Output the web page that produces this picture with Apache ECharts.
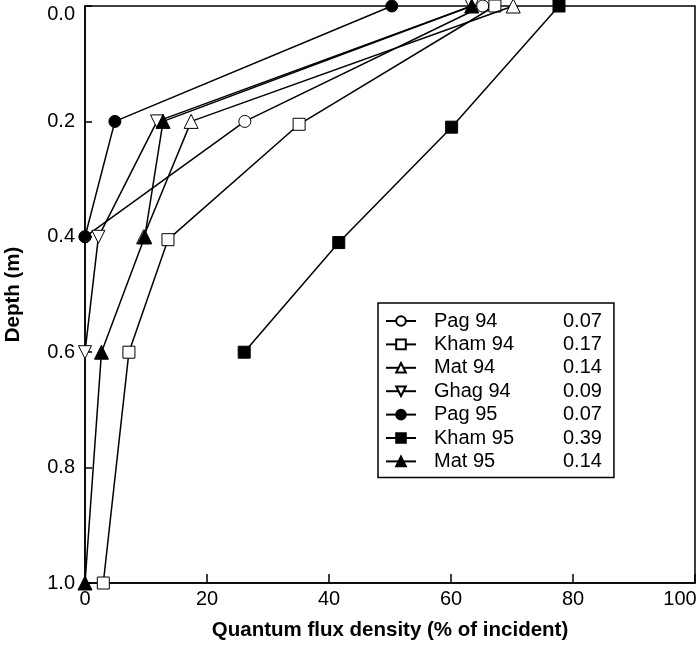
<!DOCTYPE html>
<html>
<head>
<meta charset="utf-8">
<script src="https://cdn.jsdelivr.net/npm/echarts@6/dist/echarts.min.js"></script>
<style>
  html, body { margin: 0; padding: 0; background: #fff; }
  #chart { width: 698px; height: 648px; }
</style>
</head>
<body>
<div id="chart"></div>
<script>
// 图例名称和消光系数
const seriesNames = ['Pag 94', 'Kham 94', 'Mat 94', 'Ghag 94', 'Pag 95', 'Kham 95', 'Mat 95']
const coefs = ['0.07', '0.17', '0.14', '0.09', '0.07', '0.39', '0.14']

// 每条线的光量子通量 (% of incident) 和深度 (m)
const pag94Flux = [65.2, 26.2, 0]
const pag94Depth = [0, 0.2, 0.4]
const kham94Flux = [67.2, 35.1, 13.6, 7.2, 3.0]
const kham94Depth = [0, 0.205, 0.405, 0.6, 1.0]
const mat94Flux = [70.2, 17.4, 9.6]
const mat94Depth = [0, 0.2, 0.4]
const ghag94Flux = [63.4, 11.8, 2.2, 0]
const ghag94Depth = [0, 0.2, 0.4, 0.6]
const pag95Flux = [50.3, 4.9, 0]
const pag95Depth = [0, 0.2, 0.4]
const kham95Flux = [77.7, 60.1, 41.6, 26.1]
const kham95Depth = [0, 0.21, 0.41, 0.6]
const mat95Flux = [63.4, 12.8, 9.8, 2.7, 0]
const mat95Depth = [0, 0.2, 0.4, 0.6, 1.0]

// 刻度
const xTicks = [0, 20, 40, 60, 80, 100]
const yTicks = [0, 0.2, 0.4, 0.6, 0.8, 1.0]

const FONT = "'Liberation Sans', Arial, sans-serif"
const downTri = 'path://M0,0 L10,0 L5,9 Z'

function pairs(xs, ds) {
  return xs.map((v, i) => [v, ds[i]])
}

// 每条线的标记样式
const styles = [
  { symbol: 'circle', size: 12, fill: '#fff' },
  { symbol: 'rect', size: 12, fill: '#fff' },
  { symbol: 'triangle', size: 14, fill: '#fff' },
  { symbol: downTri, size: 13, fill: '#fff' },
  { symbol: 'circle', size: 12, fill: '#000' },
  { symbol: 'rect', size: 12, fill: '#000' },
  { symbol: 'triangle', size: 14, fill: '#000' }
]
const allData = [
  pairs(pag94Flux, pag94Depth),
  pairs(kham94Flux, kham94Depth),
  pairs(mat94Flux, mat94Depth),
  pairs(ghag94Flux, ghag94Depth),
  pairs(pag95Flux, pag95Depth),
  pairs(kham95Flux, kham95Depth),
  pairs(mat95Flux, mat95Depth)
]

const labelRich = {
  // 顶部 0.0 往下挪一点，100 往左挪一点，免得被裁掉
  low: { fontFamily: FONT, fontSize: 20, color: '#000', padding: [16, 0, 0, 0] },
  end: { fontFamily: FONT, fontSize: 20, color: '#000', padding: [0, 30, 0, 0] }
}

const myChart = echarts.init(document.querySelector('#chart'))
const option = {
  animation: false,
  backgroundColor: '#fff',
  grid: {
    left: 85, right: 3, top: 6, bottom: 65,
    outerBoundsMode: 'none',
    containLabel: false,
    show: true,
    borderColor: '#000',
    borderWidth: 1.5
  },
  legend: {
    orient: 'vertical',
    left: 378,
    top: 303,
    width: 237,
    padding: [8, 12, 6, 7],
    itemGap: 3.4,
    itemWidth: 30,
    itemHeight: 12,
    borderColor: '#000',
    borderWidth: 1.5,
    backgroundColor: '#fff',
    data: seriesNames,
    formatter: name => '{a|' + name + '}{b|' + coefs[seriesNames.indexOf(name)] + '}',
    textStyle: {
      fontFamily: FONT,
      fontSize: 20,
      color: '#000',
      rich: {
        a: { fontFamily: FONT, fontSize: 20, color: '#000', width: 129, padding: [0, 0, 0, 13] },
        b: { fontFamily: FONT, fontSize: 20, color: '#000' }
      }
    }
  },
  xAxis: {
    type: 'value',
    min: 0, max: 100, interval: 20,
    name: 'Quantum flux density (% of incident)',
    nameLocation: 'middle',
    nameGap: 37,
    nameTextStyle: { fontFamily: FONT, fontSize: 20.5, fontWeight: 'bold', color: '#000' },
    axisLine: { onZero: false, lineStyle: { color: '#000', width: 1.5 } },
    axisTick: { inside: true, length: 9, lineStyle: { color: '#000', width: 1.5 } },
    axisLabel: {
      fontFamily: FONT, fontSize: 20, color: '#000', margin: 6,
      rich: labelRich,
      formatter: v => {
        if (!xTicks.includes(v)) return ''
        return v === 100 ? '{end|100}' : String(v)
      }
    },
    splitLine: { show: false }
  },
  yAxis: {
    type: 'value',
    inverse: true,
    min: 0, max: 1, interval: 0.2,
    name: 'Depth (m)',
    nameLocation: 'middle',
    nameGap: 61,
    nameTextStyle: { fontFamily: FONT, fontSize: 20.5, fontWeight: 'bold', color: '#000' },
    axisLine: { onZero: false, lineStyle: { color: '#000', width: 1.5 } },
    axisTick: { inside: true, length: 7, lineStyle: { color: '#000', width: 1.5 } },
    axisLabel: {
      fontFamily: FONT, fontSize: 20, color: '#000', margin: 10,
      rich: labelRich,
      formatter: v => {
        if (!yTicks.some(t => Math.abs(t - v) < 1e-9)) return ''
        return v === 0 ? '{low|0.0}' : v.toFixed(1)
      }
    },
    splitLine: { show: false }
  },
  series: seriesNames.map((name, i) => ({
    name: name,
    type: 'line',
    data: allData[i],
    clip: false,
    symbol: styles[i].symbol,
    symbolSize: styles[i].size,
    showAllSymbol: true,
    lineStyle: { color: '#000', width: 1.5 },
    itemStyle: { color: styles[i].fill, borderColor: '#000', borderWidth: 1 },
    emphasis: { disabled: true },
    z: 2 + i
  }))
}
myChart.setOption(option)
</script>
</body>
</html>
